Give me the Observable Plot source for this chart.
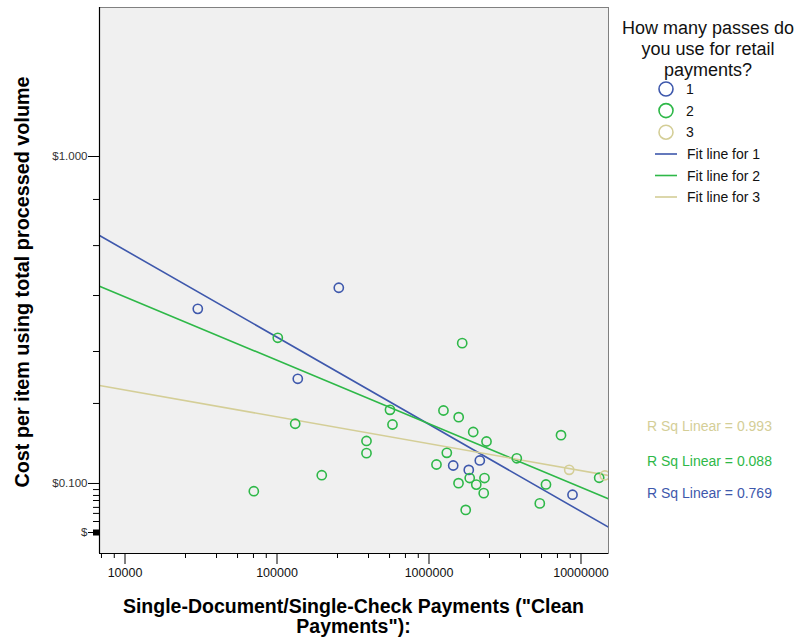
<!DOCTYPE html>
<html>
<head>
<meta charset="utf-8">
<script src="https://cdn.jsdelivr.net/npm/d3@7"></script>
<script src="https://cdn.jsdelivr.net/npm/@observablehq/plot@0.6"></script>
<style>
  html, body { margin: 0; padding: 0; background: #ffffff; }
  #chart svg { display: block; }
</style>
</head>
<body>
<div id="chart"></div>
<script>
// ---------- data ----------
const groups = ["1", "2", "3"];
const groupColors = ["#3e58ac", "#2eb848", "#d4ce97"];

// group 1 (blue)
const g1X = [30120, 255000, 137000, 1443000, 1827000, 2159000, 8794000];
const g1Y = [0.342, 0.3968, 0.209, 0.1135, 0.110, 0.1176, 0.0924];

// group 2 (green)
const g2X = [101200, 131700, 197000, 70380, 388000, 388000, 553700, 575200, 1245000, 1568000,
             1954000, 2390000, 1310000, 1120000, 3781000, 7388000, 1564000, 1853000, 2047000, 2318000,
             2291000, 1744000, 5884000, 5357000, 13170000, 1654000];
const g2Y = [0.279, 0.1523, 0.106, 0.0947, 0.1349, 0.1238, 0.168, 0.1515, 0.1672, 0.1595,
             0.1437, 0.1344, 0.1241, 0.1143, 0.1194, 0.1405, 0.1002, 0.1039, 0.0992, 0.1039,
             0.0934, 0.083, 0.0993, 0.0869, 0.1041, 0.2686];

// group 3 (tan)
const g3X = [8364000, 14340000];
const g3Y = [0.1101, 0.1058];

// fit lines: values at the two ends of the x axis
const fitX = [6795, 15170000];
const fit1Y = [0.5734, 0.0735];
const fit2Y = [0.4012, 0.0898];
const fit3Y = [0.1994, 0.1058];
const rSquared = [0.769, 0.088, 0.993];

// axes
const xDomain = [6795, 15170000];
const yDomain = [0.06107, 2.856];
const xMajorTicks = [10000, 100000, 1000000, 10000000];
const xMinorTicks = [7000, 8500, 25000, 40000, 55000, 70000, 85000,
                     250000, 400000, 550000, 700000, 850000,
                     2500000, 4000000, 5500000, 7000000, 8500000];
const yMajorTicks = [1, 0.1, 0.0708];
const yMajorLabels = ["$1.000", "$0.100", "$"];
const yMinorTicks = [0.739, 0.534, 0.3757, 0.2533, 0.1757,
                     0.0958, 0.0919, 0.0887, 0.0845, 0.081, 0.0765];

const legendTitle = ["How many passes do", "you use for retail", "payments?"];
const fitLabels = ["Fit line for 1", "Fit line for 2", "Fit line for 3"];
const xTitle = ["Single-Document/Single-Check Payments (\"Clean", "Payments\"):"];
const yTitle = "Cost per item using total processed volume";

// ---------- build tables ----------
const points = [
  ...g1X.map((x, i) => ({x, y: g1Y[i], group: groups[0]})),
  ...g2X.map((x, i) => ({x, y: g2Y[i], group: groups[1]})),
  ...g3X.map((x, i) => ({x, y: g3Y[i], group: groups[2]}))
];
const fits = [fit1Y, fit2Y, fit3Y].flatMap((ys, k) =>
  fitX.map((x, i) => ({x, y: ys[i], group: groups[k]})));

const FONT = "'Liberation Sans', Arial, Helvetica, sans-serif";

const chart = Plot.plot({
  width: 796,
  height: 637,
  marginLeft: 99,
  marginRight: 188,
  marginTop: 7,
  marginBottom: 84,
  style: {fontFamily: FONT, background: "#ffffff", overflow: "visible"},
  x: {type: "log", domain: xDomain},
  y: {type: "log", domain: yDomain},
  color: {domain: groups, range: groupColors},
  marks: [
    Plot.frame({fill: "#f0f0f0", stroke: "#808080", strokeWidth: 1}),
    Plot.line(fits, {x: "x", y: "y", z: "group", stroke: "group", strokeWidth: 1.6, clip: true}),
    Plot.dot(points, {x: "x", y: "y", stroke: "group", fill: "none", r: 4.6, strokeWidth: 1.6, clip: true}),
    Plot.ruleX([xDomain[0]], {stroke: "#000", strokeWidth: 1.2}),
    Plot.ruleY([yDomain[0]], {stroke: "#000", strokeWidth: 1.2}),
    Plot.axisX(xMajorTicks, {anchor: "bottom", tickSize: 11, tickPadding: 4, label: null,
      tickFormat: d => String(d), fontSize: 12.5, fill: "#111", stroke: "#000"}),
    Plot.axisX(xMinorTicks, {anchor: "bottom", tickSize: 5, label: null,
      tickFormat: () => "", stroke: "#000"}),
    Plot.axisY(yMajorTicks, {anchor: "left", tickSize: 11, tickPadding: 1, label: null,
      tickFormat: d => yMajorLabels[yMajorTicks.indexOf(d)], fontSize: 11.5, fill: "#333", stroke: "#000"}),
    Plot.axisY([yMajorTicks[2]], {anchor: "left", tickSize: 6, label: null,
      tickFormat: () => "", stroke: "#000", strokeWidth: 6}),
    Plot.axisY(yMinorTicks, {anchor: "left", tickSize: 6, label: null,
      tickFormat: () => "", stroke: "#000"})
  ]
});

document.getElementById("chart").appendChild(chart);

// ---------- titles & legend ----------
const svg = d3.select(chart);
const ann = svg.append("g").attr("font-family", FONT).attr("text-anchor", "start");

// x title (two lines, bold)
const xt = ann.append("text")
  .attr("text-anchor", "middle")
  .attr("font-weight", "bold")
  .attr("font-size", 19.5)
  .attr("fill", "#000");
xTitle.forEach((t, i) => {
  xt.append("tspan").attr("x", 353.5).attr("y", 612.5 + i * 20.5).text(t);
});

// y title (rotated, bold)
ann.append("text")
  .attr("transform", "translate(29,282) rotate(-90)")
  .attr("text-anchor", "middle")
  .attr("font-weight", "bold")
  .attr("font-size", 19.8)
  .attr("fill", "#000")
  .text(yTitle);

// legend title
legendTitle.forEach((t, i) => {
  ann.append("text")
    .attr("x", 708).attr("y", 33.5 + i * 21)
    .attr("text-anchor", "middle")
    .attr("font-size", 18)
    .attr("fill", "#111")
    .text(t);
});

// legend symbols for groups
groups.forEach((g, i) => {
  const cy = 89 + i * 21.6;
  ann.append("circle")
    .attr("cx", 666).attr("cy", cy).attr("r", 7)
    .attr("fill", "none").attr("stroke", groupColors[i]).attr("stroke-width", 1.6);
  ann.append("text")
    .attr("x", 686).attr("y", cy + 5)
    .attr("text-anchor", "start")
    .attr("font-size", 14).attr("fill", "#111")
    .text(g);
});

// legend fit lines
fitLabels.forEach((t, i) => {
  const cy = 154 + i * 21.5;
  ann.append("line")
    .attr("x1", 655).attr("x2", 677).attr("y1", cy).attr("y2", cy)
    .attr("stroke", groupColors[i]).attr("stroke-width", 1.6);
  ann.append("text")
    .attr("x", 687).attr("y", cy + 5)
    .attr("text-anchor", "start")
    .attr("font-size", 14).attr("fill", "#111")
    .text(t);
});

// R squared annotations (tan, green, blue from top)
const rOrder = [2, 1, 0];
const rY = [431, 465.7, 497.7];
rOrder.forEach((k, j) => {
  ann.append("text")
    .attr("x", 647).attr("y", rY[j])
    .attr("text-anchor", "start")
    .attr("font-size", 14)
    .attr("fill", groupColors[k])
    .text("R Sq Linear = " + rSquared[k].toFixed(3));
});
</script>
</body>
</html>
